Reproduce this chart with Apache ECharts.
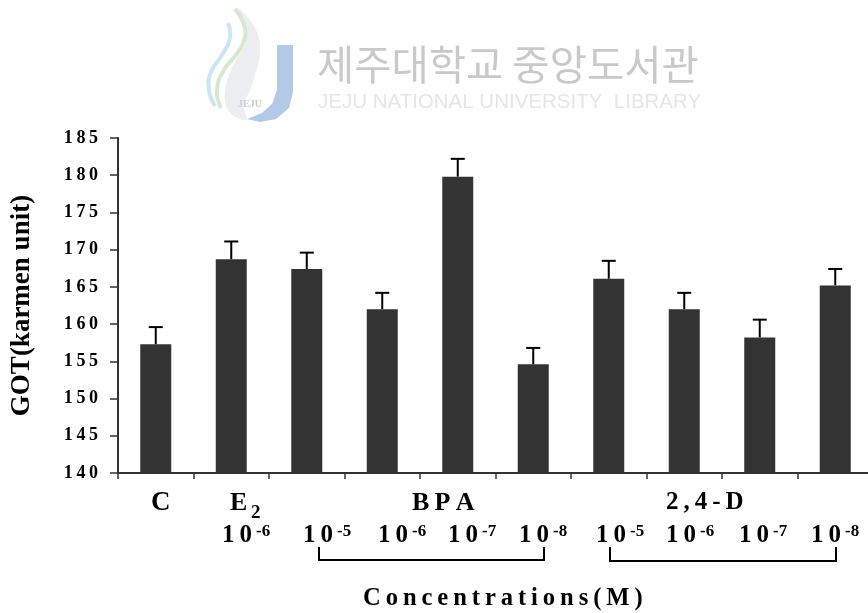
<!DOCTYPE html>
<html>
<head>
<meta charset="utf-8">
<style>
  html, body { margin: 0; padding: 0; background: #fff; overflow: hidden; }
  #chart { width: 868px; height: 613px; }
</style>
<script src="https://cdn.jsdelivr.net/npm/echarts@6/dist/echarts.min.js"></script>
</head>
<body>
<div id="chart"></div>
<script>
const categories = ['C', 'E2 10-6', 'BPA 10-5', 'BPA 10-6', 'BPA 10-7', 'BPA 10-8', '2,4-D 10-5', '2,4-D 10-6', '2,4-D 10-7', '2,4-D 10-8']
const means = [157.3, 168.7, 167.4, 162, 179.8, 154.6, 166.1, 162, 158.2, 165.2]
const errorTops = [159.6, 171.1, 169.6, 164.2, 182.2, 156.8, 168.5, 164.2, 160.6, 167.4]
const yTicks = [140, 145, 150, 155, 160, 165, 170, 175, 180, 185]

const serif = '"Liberation Serif", "Times New Roman", serif'
const spaced = s => String(s).split('').join('\u2009')

function label(x, y, text, size) {
  return {
    type: 'text', x, y, silent: true,
    style: { text, fill: '#000', font: 'bold ' + size + 'px ' + serif, verticalAlign: 'middle' }
  }
}

// "10" with its exponent, placed by hand like the original annotation
function power(x, exp) {
  return [label(x, 536, spaced('10'), 25), label(x + 34, 532, exp, 17)]
}

function bracket(x1, x2, y) {
  return {
    type: 'polyline', silent: true,
    shape: { points: [[x1, 547], [x1, y], [x2, y], [x2, 547]] },
    style: { stroke: '#000', lineWidth: 2, fill: null }
  }
}

// faded library watermark
const watermark = [
  { type: 'polygon', silent: true, shape: { points: [[236, 8], [254, 26], [260, 50], [252, 85], [244, 105], [246, 120], [228, 110], [226, 85], [236, 60], [246, 40]], smooth: 0.4 },
    style: { fill: '#eceef2' } },
  { type: 'polyline', silent: true, shape: { points: [[235, 9], [243, 22], [245, 37], [238, 52], [224, 70], [217, 90], [221, 108]], smooth: 0.5 },
    style: { stroke: '#d6e9d0', lineWidth: 4, fill: null } },
  { type: 'polyline', silent: true, shape: { points: [[228, 23], [230, 38], [222, 55], [211, 72], [209, 90], [215, 106]], smooth: 0.5 },
    style: { stroke: '#cbe6f3', lineWidth: 4, fill: null } },
  { type: 'polygon', silent: true, shape: { points: [[277, 45], [293, 45], [293, 92], [289, 108], [276, 119], [260, 122], [247, 119], [262, 113], [272, 104], [277, 90]] },
    style: { fill: '#b2cae6' } },
  { type: 'text', x: 238, y: 99, silent: true, style: { text: 'JEJU', fill: '#c9ccd2', font: 'bold 10px ' + serif } },
  { type: 'text', x: 317, y: 44, silent: true, style: { text: '제주대학교 중앙도서관', fill: '#c9c9c9', font: '40.5px "Noto Sans CJK KR"' } },
  { type: 'text', x: 318, y: 92, silent: true, style: { text: 'JEJU NATIONAL UNIVERSITY  LIBRARY', fill: '#e6e6e6', font: '20.5px "Liberation Sans"' } }
]

const annotations = [
  label(151, 503, 'C', 27),
  label(230, 503, 'E', 26),
  label(251, 513, '2', 19),
  label(412, 503, spaced('BPA'), 26),
  label(666, 503, spaced('2,4-D'), 25),
  ...power(222, '-6'),
  ...power(303, '-5'),
  ...power(378, '-6'),
  ...power(448, '-7'),
  ...power(519, '-8'),
  ...power(596, '-5'),
  ...power(666, '-6'),
  ...power(739, '-7'),
  ...power(811, '-8'),
  bracket(319, 544, 560),
  bracket(610, 836, 561),
  label(363, 599, spaced('Concentrations(M)'), 24.6)
]

const myChart = echarts.init(document.getElementById('chart'), null, { renderer: 'canvas' })

myChart.setOption({
  animation: false,
  backgroundColor: '#fff',
  grid: { left: 118, top: 138, width: 755, height: 335, outerBoundsMode: 'none' },
  xAxis: {
    type: 'category',
    data: categories,
    axisLine: { lineStyle: { color: '#333', width: 2 } },
    axisTick: { show: true, length: 6, lineStyle: { color: '#333', width: 1.5 } },
    axisLabel: { show: false }
  },
  yAxis: {
    type: 'value',
    min: yTicks[0],
    max: yTicks[yTicks.length - 1],
    interval: 5,
    name: 'GOT(karmen unit)',
    nameLocation: 'middle',
    nameGap: 82,
    nameTextStyle: { color: '#000', fontFamily: serif, fontWeight: 'bold', fontSize: 27 },
    splitLine: { show: false },
    axisLine: { show: true, lineStyle: { color: '#333', width: 2 } },
    axisTick: { show: true, length: 8, lineStyle: { color: '#333', width: 1.5 } },
    axisLabel: {
      color: '#000', fontFamily: serif, fontWeight: 'bold', fontSize: 18, margin: 20,
      padding: [6, 0, 0, 0],
      formatter: v => spaced(v)
    }
  },
  series: [
    {
      type: 'bar',
      data: means,
      barWidth: 31,
      itemStyle: { color: '#333' }
    },
    {
      type: 'custom',
      data: errorTops.map((top, i) => [i, means[i], top]),
      encode: { x: 0, y: [1, 2] },
      z: 1,
      renderItem(params, api) {
        const base = api.coord([api.value(0), api.value(1)])
        const top = api.coord([api.value(0), api.value(2)])
        const lineStyle = { stroke: '#000', lineWidth: 2 }
        return {
          type: 'group',
          children: [
            { type: 'line', shape: { x1: base[0], y1: base[1], x2: base[0], y2: top[1] }, style: lineStyle },
            { type: 'line', shape: { x1: base[0] - 7, y1: top[1], x2: base[0] + 7, y2: top[1] }, style: lineStyle }
          ]
        }
      }
    }
  ],
  graphic: { elements: [...watermark, ...annotations] }
})
</script>
</body>
</html>
